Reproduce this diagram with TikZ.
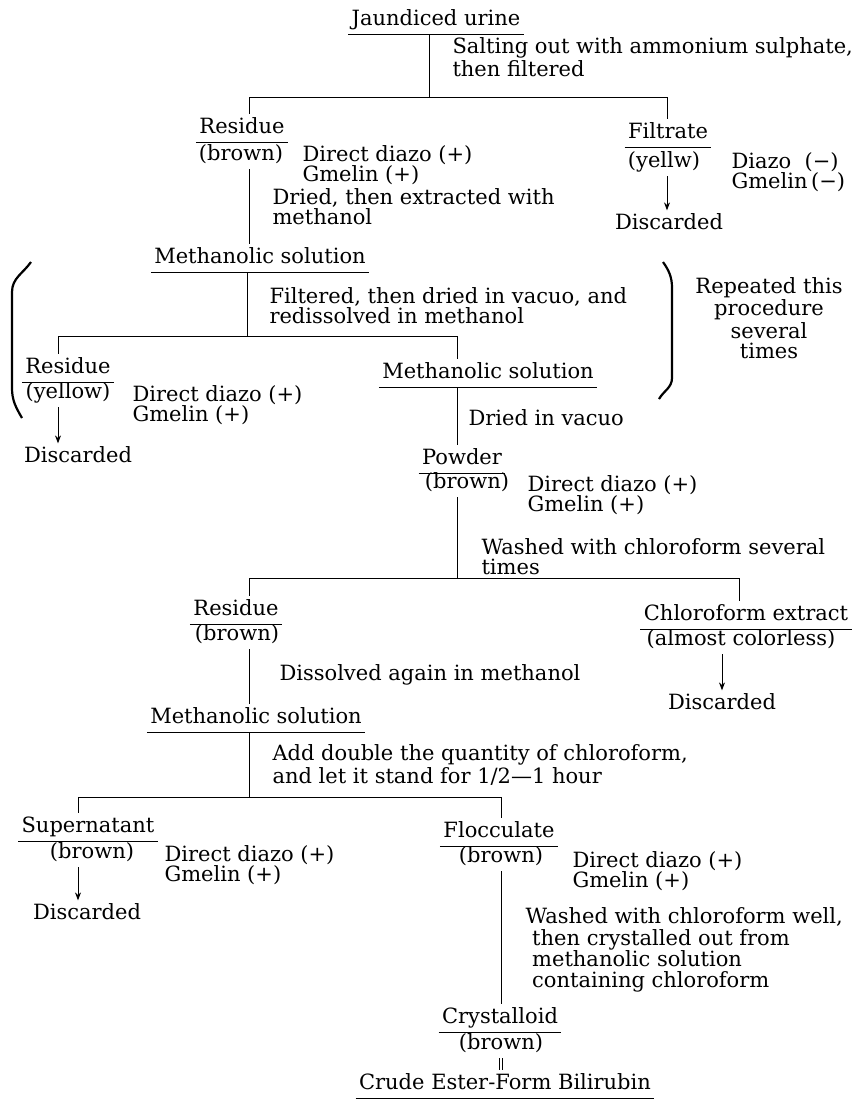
\documentclass[tikz,border=0pt]{standalone}
\usepackage{fontspec}
\setmainfont{DejaVu Serif}
\usepackage{tikz}
\usetikzlibrary{positioning,calc,arrows.meta}

\begin{document}
\begin{tikzpicture}[x=0.5pt,y=-0.5pt,line width=0.5pt,
    font=\fontsize{10.5}{10}\selectfont,
    every node/.style={inner sep=1.5pt},
    subst/.style={text height=1.6ex,text depth=0.45ex,
      append after command={(\tikzlastnode.south west) edge (\tikzlastnode.south east)}},
    colour/.style={text height=1.6ex,text depth=0.45ex},
    note/.style={anchor=west,align=left},
    >={Stealth[length=4pt,width=3pt]}]
    \useasboundingbox (0,0) rectangle (860,1099);

    % top
    \node[subst] (jaund) at (436,20) {Jaundiced urine};
    \node[note] (salt) at (449,57) {Salting out with ammonium sulphate,\\then filtered};
    \coordinate (b1) at (429,97);
    \coordinate (b1l) at (249,97);
    \coordinate (b1r) at (667,97);

    % residue / filtrate
    \node[subst] (res1) at (242,128) {Residue};
    \node[colour] (res1c) at (241,155) {(brown)};
    \node[note] (test1) at (299,165) {Direct diazo (+)\\Gmelin (+)};
    \node[note] (dry1) at (269,207) {Dried, then extracted with\\methanol};
    \node[subst] (filt) at (668,133) {Filtrate};
    \node[colour] (filtc) at (664,162) {(yellw)};
    \node[note] (test2) at (728,172) {Diazo\ \ (−)\\Gmelin\,(−)};
    \node (disc1) at (669,222) {Discarded};

    % repeated part
    \node[subst] (meth1) at (260,258) {Methanolic solution};
    \node[note] (filt2) at (266,306) {Filtered, then dried in vacuo, and\\redissolved in methanol};
    \coordinate (b2) at (247,336);
    \coordinate (b2l) at (58,336);
    \coordinate (b2r) at (457,336);
    \node[subst] (res2) at (68,368) {Residue};
    \node[colour] (res2c) at (68,393) {(yellow)};
    \node[note] (test3) at (129,405) {Direct diazo (+)\\Gmelin (+)};
    \node (disc2) at (78,455) {Discarded};
    \node[subst] (meth2) at (488,373) {Methanolic solution};
    \node[note] (dry2) at (465,418) {Dried in vacuo};
    \node[align=center] (rep) at (769,318) {Repeated this\\procedure\\several\\times};

    % powder
    \node[subst] (powd) at (462,459) {Powder};
    \node[colour] (powdc) at (467,483) {(brown)};
    \node[note] (test4) at (524,495) {Direct diazo (+)\\Gmelin (+)};
    \node[note] (wash1) at (478,557) {Washed with chloroform several\\times};
    \coordinate (b3) at (457,578);
    \coordinate (b3l) at (249,578);
    \coordinate (b3r) at (739,578);
    \node[subst] (res3) at (236,610) {Residue};
    \node[colour] (res3c) at (237,635) {(brown)};
    \node[note] (diss) at (276,675) {Dissolved again in methanol};
    \node[subst] (chlext) at (746,615) {Chloroform extract};
    \node[colour] (chlextc) at (741,640) {(almost colorless)};
    \node (disc3) at (722,702) {Discarded};

    % last split
    \node[subst] (meth3) at (256,718) {Methanolic solution};
    \node[note] (add) at (269,765) {Add double the quantity of chloroform,\\and let it stand for 1/2---1 hour};
    \coordinate (b4) at (249,797);
    \coordinate (b4l) at (78,797);
    \coordinate (b4r) at (501,797);
    \node[subst] (super) at (88,827) {Supernatant};
    \node[colour] (superc) at (92,853) {(brown)};
    \node[note] (test5) at (161,865) {Direct diazo (+)\\Gmelin (+)};
    \node (disc4) at (87,912) {Discarded};
    \node[subst] (flocc) at (499,832) {Flocculate};
    \node[colour] (floccc) at (501,857) {(brown)};
    \node[note] (test6) at (569,871) {Direct diazo (+)\\Gmelin (+)};
    \node[note,font=\fontsize{10.5}{10.6}\selectfont] (wash2) at (522,950) {Washed with chloroform well,\\\ then crystalled out from\\\ methanolic solution\\\ containing chloroform};
    \node[subst] (cryst) at (500,1018) {Crystalloid};
    \node[colour] (crystc) at (501,1044) {(brown)};
    \node[subst] (crude) at (505,1084) {Crude Ester-Form Bilirubin};

    % connectors
    \draw (jaund.south -| b1) -- (b1);
    \draw (res1.north -| b1l) -- (b1l) -- (b1r) -- (filt.north -| b1r);
    \draw (res1c.south -| b1l) -- (meth1.north -| b1l);
    \draw[->] (filtc.south -| b1r) -- (disc1.north -| b1r);
    \draw (meth1.south -| b2) -- (b2);
    \draw (res2.north -| b2l) -- (b2l) -- (b2r) -- (meth2.north -| b2r);
    \draw[->] (res2c.south -| b2l) -- (disc2.north -| b2l);
    \draw (meth2.south -| b2r) -- (powd.north -| b2r);
    \draw (powdc.south -| b3) -- (b3);
    \draw (res3.north -| b3l) -- (b3l) -- (b3r) -- (chlext.north -| b3r);
    \draw (res3c.south -| b3l) -- (meth3.north -| b3l);
    \draw[->] (chlextc.south -| disc3) -- (disc3.north);
    \draw (meth3.south -| b4) -- (b4);
    \draw (super.north -| b4l) -- (b4l) -- (b4r) -- (flocc.north -| b4r);
    \draw[->] (superc.south -| b4l) -- (disc4.north -| b4l);
    \draw (floccc.south -| b4r) -- (cryst.north -| b4r);
    \draw[double distance=1pt] (crystc.south) -- (crude.north -| crystc.south);

    % brackets round the repeated part
    \draw[line width=1.1pt] (31,262) to[out=235,in=90] (12,292) -- (12,388) to[out=270,in=120] (22,418);
    \draw[line width=1.1pt] (663,262) to[out=-55,in=90] (672,288) -- (672,378) to[out=270,in=60] (659,399);
\end{tikzpicture}
\end{document}
